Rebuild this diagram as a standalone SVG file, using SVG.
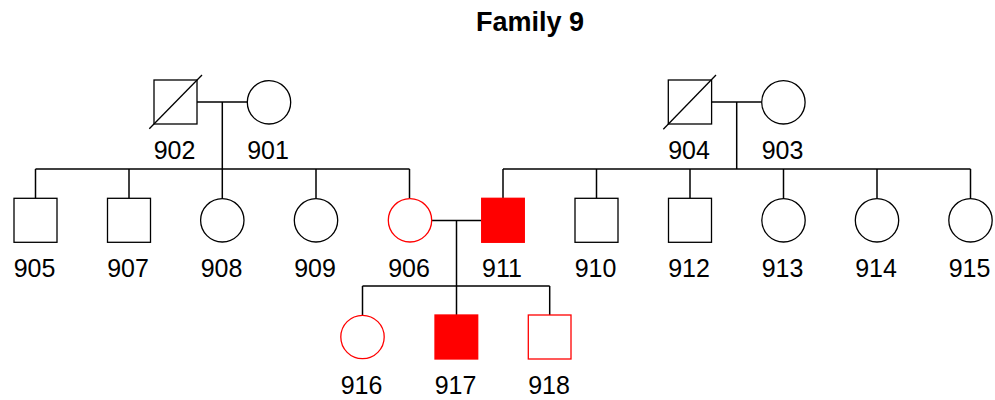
<svg xmlns="http://www.w3.org/2000/svg" width="995" height="400" viewBox="0 0 995 400">
<style>
.t{font-family:"Liberation Sans",Arial,sans-serif;font-size:25px;fill:#000;text-anchor:middle}
.title{font-family:"Liberation Sans",Arial,sans-serif;font-size:27px;font-weight:bold;fill:#000;text-anchor:middle}
.n{fill:#fff;stroke:#000;stroke-width:1.3}
.a{fill:#fff;stroke:#f00;stroke-width:1.3}
.af{fill:#f00;stroke:#f00;stroke-width:1.3}
.c line,.c polyline{stroke:#000;stroke-width:1.5;fill:none}
.d{stroke:#000;stroke-width:1.3}
</style>
<rect width="995" height="400" fill="#fff"/>
<text class="title" x="530" y="30.5">Family 9</text>
<g class="c" id="connectors">
<line x1="197" y1="102" x2="247.5" y2="102"/>
<line x1="222.3" y1="102" x2="222.3" y2="169"/>
<line x1="35.5" y1="169" x2="409.5" y2="169"/>
<line x1="35.5" y1="169" x2="35.5" y2="198"/>
<line x1="129" y1="169" x2="129" y2="198"/>
<line x1="222.3" y1="169" x2="222.3" y2="198"/>
<line x1="316" y1="169" x2="316" y2="198"/>
<line x1="409.5" y1="169" x2="409.5" y2="198"/>
<line x1="711.5" y1="102" x2="761.8" y2="102"/>
<line x1="736.7" y1="102" x2="736.7" y2="169"/>
<line x1="503" y1="169" x2="970.5" y2="169"/>
<line x1="503" y1="169" x2="503" y2="198"/>
<line x1="596.5" y1="169" x2="596.5" y2="198"/>
<line x1="690" y1="169" x2="690" y2="198"/>
<line x1="783.5" y1="169" x2="783.5" y2="198"/>
<line x1="877" y1="169" x2="877" y2="198"/>
<line x1="970.5" y1="169" x2="970.5" y2="198"/>
<line x1="431.5" y1="220.5" x2="481.5" y2="220.5"/>
<line x1="456.5" y1="220.5" x2="456.5" y2="286"/>
<line x1="362.5" y1="286" x2="549.7" y2="286"/>
<line x1="362.5" y1="286" x2="362.5" y2="315"/>
<line x1="456.5" y1="286" x2="456.5" y2="315"/>
<line x1="549.7" y1="286" x2="549.7" y2="315"/>
</g>
<g id="n902"><rect class="n" x="154" y="80" width="43" height="44"/><line class="d" x1="149.3" y1="128.7" x2="202" y2="75"/><text class="t" x="174.5" y="159">902</text></g>
<g id="n901"><circle class="n" cx="269" cy="102.3" r="21.7"/><text class="t" x="268" y="159">901</text></g>
<g id="n904"><rect class="n" x="668.3" y="80" width="43.3" height="44"/><line class="d" x1="663.3" y1="129.3" x2="716" y2="75"/><text class="t" x="689" y="159">904</text></g>
<g id="n903"><circle class="n" cx="783.4" cy="102.3" r="21.7"/><text class="t" x="782.5" y="159">903</text></g>
<g id="n905"><rect class="n" x="14" y="198.3" width="43" height="44"/><text class="t" x="34.5" y="277">905</text></g>
<g id="n907"><rect class="n" x="107.5" y="198.3" width="43" height="44"/><text class="t" x="128" y="277">907</text></g>
<g id="n908"><circle class="n" cx="222.3" cy="220.3" r="21.7"/><text class="t" x="221.5" y="277">908</text></g>
<g id="n909"><circle class="n" cx="316" cy="220.3" r="21.7"/><text class="t" x="315" y="277">909</text></g>
<g id="n906"><circle class="a" cx="410" cy="220.3" r="21.7"/><text class="t" x="409" y="277">906</text></g>
<g id="n911"><rect class="af" x="481.7" y="198.3" width="42.6" height="44"/><text class="t" x="502" y="277">911</text></g>
<g id="n910"><rect class="n" x="575" y="198.3" width="43" height="44"/><text class="t" x="595.5" y="277">910</text></g>
<g id="n912"><rect class="n" x="668.5" y="198.3" width="43" height="44"/><text class="t" x="689" y="277">912</text></g>
<g id="n913"><circle class="n" cx="783.5" cy="220.3" r="21.7"/><text class="t" x="782.5" y="277">913</text></g>
<g id="n914"><circle class="n" cx="877" cy="220.3" r="21.7"/><text class="t" x="876" y="277">914</text></g>
<g id="n915"><circle class="n" cx="970.5" cy="220.3" r="21.7"/><text class="t" x="969.5" y="277">915</text></g>
<g id="n916"><circle class="a" cx="362.5" cy="337" r="21.7"/><text class="t" x="361.5" y="394">916</text></g>
<g id="n917"><rect class="af" x="435" y="315" width="42.7" height="44"/><text class="t" x="455.5" y="394">917</text></g>
<g id="n918"><rect class="a" x="528.3" y="315" width="42.7" height="44"/><text class="t" x="549" y="394">918</text></g>
</svg>
